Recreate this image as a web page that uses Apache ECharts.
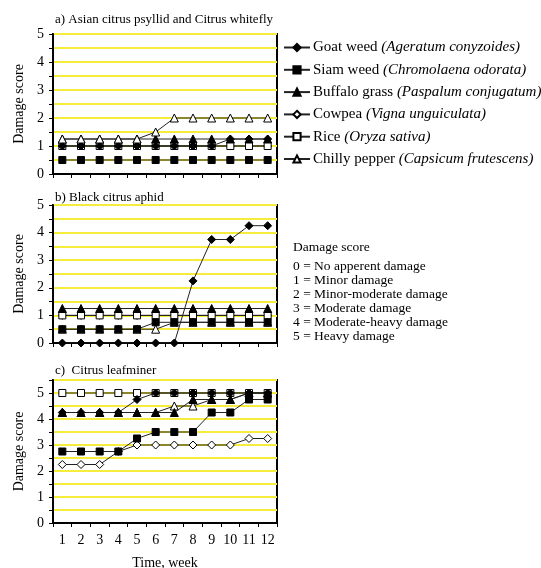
<!DOCTYPE html>
<html><head><meta charset="utf-8">
<script src="https://cdn.jsdelivr.net/npm/echarts@6/dist/echarts.min.js"></script>
<style>html,body{margin:0;padding:0;background:#fff}#c{width:541px;height:568px}</style>
</head><body><div id="c"></div>
<script>
const weeks = ['1','2','3','4','5','6','7','8','9','10','11','12'];
const panelTitles = ['a) Asian citrus psyllid and Citrus whitefly', 'b) Black citrus aphid', 'c)  Citrus leafminer'];
const plantNames = ['Goat weed', 'Siam weed', 'Buffalo grass', 'Cowpea', 'Rice', 'Chilly pepper'];
const plantLatin = ['Ageratum conyzoides', 'Chromolaena odorata', 'Paspalum conjugatum', 'Vigna unguiculata', 'Oryza sativa', 'Capsicum frutescens'];
const scoreLabels = ['0 = No apperent damage', '1 = Minor damage', '2 = Minor-moderate damage', '3 = Moderate damage', '4 = Moderate-heavy damage', '5 = Heavy damage'];
const yTicks = [0, 1, 2, 3, 4, 5];

// Panel a) Asian citrus psyllid and Citrus whitefly
const aGoat    = [1, 1, 1, 1, 1, 1, 1, 1, 1, 1.25, 1.25, 1.25];
const aSiam    = [0.5, 0.5, 0.5, 0.5, 0.5, 0.5, 0.5, 0.5, 0.5, 0.5, 0.5, 0.5];
const aBuffalo = [1.25, 1.25, 1.25, 1.25, 1.25, 1.25, 1.25, 1.25, 1.25, 1.25, 1.25, 1.25];
const aCowpea  = [1, 1, 1, 1, 1, 1, 1, 1, 1, 1, 1, 1];
const aRice    = [1, 1, 1, 1, 1, 1, 1, 1, 1, 1, 1, 1];
const aChilly  = [1.25, 1.25, 1.25, 1.25, 1.25, 1.5, 2, 2, 2, 2, 2, 2];
// Panel b) Black citrus aphid
const bGoat    = [0, 0, 0, 0, 0, 0, 0, 2.25, 3.75, 3.75, 4.25, 4.25];
const bSiam    = [0.5, 0.5, 0.5, 0.5, 0.5, 0.75, 0.75, 0.75, 0.75, 0.75, 0.75, 0.75];
const bBuffalo = [1.25, 1.25, 1.25, 1.25, 1.25, 1.25, 1.25, 1.25, 1.25, 1.25, 1.25, 1.25];
const bCowpea  = [1, 1, 1, 1, 1, 1, 1, 1, 1, 1, 1, 1];
const bRice    = [1, 1, 1, 1, 1, 1, 1, 1, 1, 1, 1, 1];
const bChilly  = [0.5, 0.5, 0.5, 0.5, 0.5, 0.5, 0.75, 0.75, 0.75, 0.75, 0.75, 0.75];
// Panel c) Citrus leafminer
const cGoat    = [4.25, 4.25, 4.25, 4.25, 4.75, 5, 5, 5, 5, 5, 5, 5];
const cSiam    = [2.75, 2.75, 2.75, 2.75, 3.25, 3.5, 3.5, 3.5, 4.25, 4.25, 4.75, 4.75];
const cBuffalo = [4.25, 4.25, 4.25, 4.25, 4.25, 4.25, 4.25, 4.75, 4.75, 4.75, 5, 5];
const cCowpea  = [2.25, 2.25, 2.25, 2.75, 3, 3, 3, 3, 3, 3, 3.25, 3.25];
const cRice    = [5, 5, 5, 5, 5, 5, 5, 5, 5, 5, 5, 5];
const cChilly  = [4.25, 4.25, 4.25, 4.25, 4.25, 4.25, 4.5, 4.5, 4.75, 4.75, 5, 5];

const panels = [
  [aGoat, aSiam, aBuffalo, aCowpea, aRice, aChilly],
  [bGoat, bSiam, bBuffalo, bCowpea, bRice, bChilly],
  [cGoat, cSiam, cBuffalo, cCowpea, cRice, cChilly]
];
const yMax = [5, 5, 5.5];

const FONT = 'Liberation Serif';
const YEL = '#f6ec3c';
const symbols = ['diamond', 'rect', 'triangle', 'diamond', 'rect', 'triangle'];
const filled = [true, true, true, false, false, false];
const symSize = [8, 7, 8, 8, 7, 8];

const grids = [
  {left: 53, width: 224, top: 34, height: 140},
  {left: 53, width: 224, top: 205, height: 138},
  {left: 53, width: 224, top: 380, height: 143}
];

const xAxes = grids.map((g, i) => ({
  type: 'category', gridIndex: i, data: weeks, boundaryGap: true,
  axisLine: {show: true, lineStyle: {color: '#000', width: 2}},
  axisTick: {show: true, length: 4, lineStyle: {color: '#000'}},
  axisLabel: {show: i === 2, color: '#000', fontFamily: FONT, fontSize: 14, margin: 10, interval: 0},
  splitLine: {show: false},
  name: i === 2 ? 'Time, week' : '', nameLocation: 'middle', nameGap: 33,
  nameTextStyle: {color: '#000', fontFamily: FONT, fontSize: 14}
}));

const yAxes = grids.map((g, i) => ({
  type: 'value', gridIndex: i, min: 0, max: yMax[i], interval: 0.5,
  axisLine: {show: true, lineStyle: {color: '#000', width: 2}},
  axisTick: {show: true, length: 4, lineStyle: {color: '#000'}},
  axisLabel: {color: '#000', fontFamily: FONT, fontSize: 14, margin: 9,
    formatter: v => (yTicks.indexOf(v) >= 0 ? String(v) : '')},
  splitLine: {show: true, lineStyle: {color: YEL, width: 2}},
  name: 'Damage score', nameLocation: 'middle', nameGap: 27, nameRotate: 90,
  nameTextStyle: {color: '#000', fontFamily: FONT, fontSize: 14}
}));

const series = [];
panels.forEach((pdata, p) => {
  pdata.forEach((vals, s) => {
    let z = filled[s] ? 4 : 3;
    if (p === 0 && s === 5) z = 5;
    series.push({
      type: 'line', name: plantNames[s], xAxisIndex: p, yAxisIndex: p,
      data: vals, symbol: symbols[s], symbolSize: symSize[s], showSymbol: true,
      z: z, animation: false,
      lineStyle: {color: '#222', width: 1},
      itemStyle: filled[s] ? {color: '#000', borderColor: '#000', borderWidth: 1}
                           : {color: '#fff', borderColor: '#000', borderWidth: 1},
      emphasis: {disabled: true}
    });
  });
});

const graphics = [];
graphics.push({type: 'text', left: 293, top: 240, style: {text: 'Damage score', font: '13.5px ' + FONT, fill: '#000'}});
scoreLabels.forEach((t, i) => {
  graphics.push({type: 'text', left: 293, top: 259 + i * 14, style: {text: t, font: '13.5px ' + FONT, fill: '#000'}});
});

const option = {
  backgroundColor: '#fff',
  animation: false,
  title: panelTitles.map((t, i) => ({
    text: t, left: 50, top: [8, 186, 359][i],
    textStyle: {fontFamily: FONT, fontSize: 13, fontWeight: 'normal', color: '#000'}
  })),
  grid: grids.map(g => Object.assign({show: true, borderColor: '#000', borderWidth: 2, backgroundColor: '#fff', outerBoundsMode: 'none', containLabel: false}, g)),
  xAxis: xAxes,
  yAxis: yAxes,
  legend: {
    orient: 'vertical', left: 278, top: 35, itemWidth: 26, itemHeight: 9, itemGap: 7.3,
    data: plantNames, selectedMode: false,
    formatter: name => {
      const k = plantNames.indexOf(name);
      return '{n|' + name + '} {i|(' + plantLatin[k] + ')}';
    },
    textStyle: {
      color: '#000', fontFamily: FONT, fontSize: 15, padding: [0, 0, 0, -2],
      rich: {
        n: {fontFamily: FONT, fontSize: 15, color: '#000', lineHeight: 16},
        i: {fontFamily: FONT, fontSize: 15, fontStyle: 'italic', color: '#000', lineHeight: 16}
      }
    }
  },
  graphic: graphics,
  series: series
};
const chart = echarts.init(document.getElementById('c'), null, {renderer: 'canvas'});
chart.setOption(option);
</script>
</body></html>
